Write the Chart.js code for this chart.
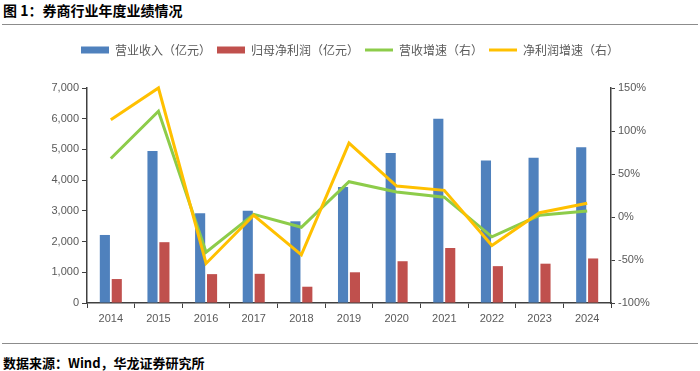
<!DOCTYPE html>
<html>
<head>
<meta charset="utf-8">
<script src="https://cdn.jsdelivr.net/npm/chart.js@4"></script>
<style>
    body { margin: 0; background: #fff; }
    #page { position: relative; width: 700px; height: 371px; overflow: hidden; font-family: "Noto Sans CJK SC", sans-serif; }
    #title { position: absolute; left: 3px; top: 0px; font-size: 14px; font-weight: bold; color: #000; }
    .rule { position: absolute; left: 2px; width: 696px; height: 0; border-top: 1.5px solid #8c8c8c; }
    #source { position: absolute; left: 3px; top: 353px; font-size: 13px; font-weight: bold; color: #000; }
    #wrap { position: absolute; left: 0; top: 28px; width: 700px; height: 310px; }
</style>
</head>
<body>
<div id="page">
    <div id="title">图 1：券商行业年度业绩情况</div>
    <div class="rule" style="top: 24px;"></div>
    <div id="wrap"><canvas id="chart"></canvas></div>
    <div class="rule" style="top: 343px;"></div>
    <div id="source">数据来源：Wind，华龙证券研究所</div>
</div>
<script>
    // Data
    const years = ['2014', '2015', '2016', '2017', '2018', '2019', '2020', '2021', '2022', '2023', '2024'];
    const revenue = [2215, 4950, 2920, 3000, 2660, 3780, 4880, 6000, 4640, 4730, 5070];      // 营业收入（亿元）
    const netProfit = [780, 1980, 940, 950, 530, 1000, 1360, 1790, 1200, 1280, 1450];        // 归母净利润（亿元）
    const revenueGrowth = [68, 123, -41, 3, -12, 41, 29, 23, -23, 2, 7];                     // 营收增速（右）, %
    const profitGrowth = [113, 150, -54, 2, -44, 86, 36, 31, -33, 5, 16];                    // 净利润增速（右）, %

    const axisColor = '#404040';
    const tickColor = '#595959';
    const tickFont = { family: '"Liberation Sans", Arial, sans-serif', size: 11 };

    // Make room under the legend so the plot starts lower
    const legendGap = {
        id: 'legendGap',
        beforeInit(chart) {
            const fit = chart.legend.fit;
            chart.legend.fit = function () {
                fit.bind(chart.legend)();
                this.height += 22;
            };
        }
    };

    const ctx = document.getElementById('chart').getContext('2d');
    new Chart(ctx, {
        type: 'bar',
        data: {
            labels: years,
            datasets: [
                {
                    label: '营业收入（亿元）',
                    data: revenue,
                    backgroundColor: '#4F81BD',
                    yAxisID: 'y',
                    categoryPercentage: 0.5,
                    barPercentage: 0.85,
                    order: 0
                },
                {
                    label: '归母净利润（亿元）',
                    data: netProfit,
                    backgroundColor: '#C0504D',
                    yAxisID: 'y',
                    categoryPercentage: 0.5,
                    barPercentage: 0.85,
                    order: 0
                },
                {
                    type: 'line',
                    label: '营收增速（右）',
                    data: revenueGrowth,
                    borderColor: '#8DCC4A',
                    backgroundColor: '#8DCC4A',
                    borderWidth: 3,
                    pointRadius: 0,
                    yAxisID: 'y1',
                    clip: false,
                    order: -1
                },
                {
                    type: 'line',
                    label: '净利润增速（右）',
                    data: profitGrowth,
                    borderColor: '#FFC000',
                    backgroundColor: '#FFC000',
                    borderWidth: 3,
                    pointRadius: 0,
                    yAxisID: 'y1',
                    clip: false,
                    order: -2
                }
            ]
        },
        options: {
            responsive: true,
            maintainAspectRatio: false,
            animation: false,
            layout: { padding: { top: 10, left: 0, right: 0, bottom: 0 } },
            plugins: {
                tooltip: { enabled: false },
                legend: {
                    position: 'top',
                    labels: {
                        usePointStyle: true,
                        pointStyleWidth: 28,
                        boxHeight: 7,
                        padding: 6,
                        color: tickColor,
                        font: { family: '"Noto Sans CJK SC", sans-serif', size: 12 },
                        generateLabels(chart) {
                            return chart.data.datasets.map((ds, i) => ({
                                text: ds.label,
                                datasetIndex: i,
                                fillStyle: ds.backgroundColor,
                                strokeStyle: ds.type === 'line' ? ds.borderColor : ds.backgroundColor,
                                lineWidth: ds.type === 'line' ? 3 : 0,
                                pointStyle: ds.type === 'line' ? 'line' : 'rect',
                                fontColor: tickColor,
                                hidden: false
                            }));
                        }
                    }
                }
            },
            scales: {
                x: {
                    offset: true,
                    afterFit: (scale) => { scale.height = 35; },
                    grid: { offset: true, drawOnChartArea: false, tickLength: 5, color: axisColor },
                    border: { color: axisColor, width: 1.5 },
                    ticks: { color: tickColor, font: tickFont, padding: 4, maxRotation: 0 }
                },
                y: {
                    position: 'left',
                    min: 0,
                    max: 7000,
                    afterFit: (scale) => { scale.width = 87; },
                    grid: { drawOnChartArea: false, tickLength: 5, color: axisColor },
                    border: { color: axisColor, width: 1.5 },
                    ticks: {
                        stepSize: 1000,
                        color: tickColor,
                        font: tickFont,
                        padding: 3,
                        callback: (v) => v.toLocaleString('en-US')
                    }
                },
                y1: {
                    position: 'right',
                    min: -100,
                    max: 150,
                    afterFit: (scale) => { scale.width = 89; },
                    grid: { drawOnChartArea: false, tickLength: 4, color: axisColor },
                    border: { color: axisColor, width: 1.5 },
                    ticks: {
                        stepSize: 50,
                        color: tickColor,
                        font: tickFont,
                        padding: 3,
                        callback: (v) => v + '%'
                    }
                }
            }
        },
        plugins: [legendGap]
    });
</script>
</body>
</html>
